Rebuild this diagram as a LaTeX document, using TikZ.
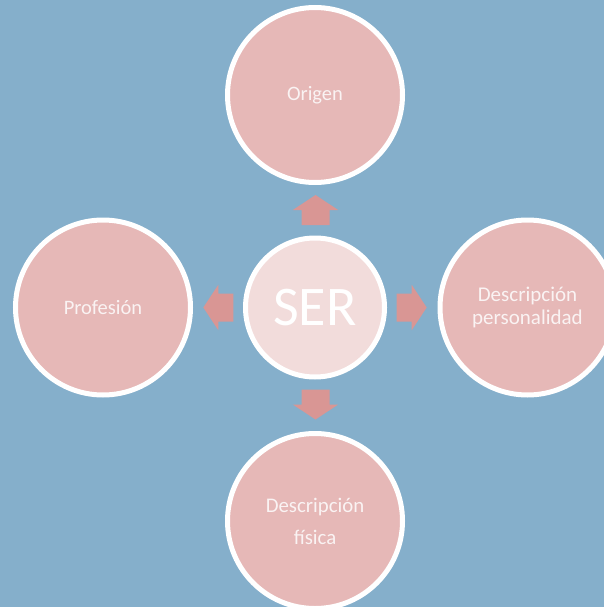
\documentclass[tikz,border=0pt]{standalone}
\usepackage{fontspec}
\setmainfont{Carlito}
\definecolor{bgc}{HTML}{85AFCB}
\definecolor{circc}{HTML}{E6B8B7}
\definecolor{centc}{HTML}{F2DCDB}
\definecolor{arrowc}{HTML}{D99694}
\definecolor{txtc}{HTML}{FAF3F3}
\tikzset{
  outercirc/.style={circle, draw=white, line width=5pt, fill=circc, minimum size=175pt, inner sep=0pt, text=txtc, align=center},
  centercirc/.style={circle, draw=white, line width=5pt, fill=centc, minimum size=139pt, inner sep=0pt, text=white},
  blockarr/.pic={\fill[arrowc] (0,-14) -- (15,-14) -- (15,-22.7) -- (30,0) -- (15,22.7) -- (15,14) -- (0,14) -- cycle;}
}
\begin{document}
\begin{tikzpicture}[x=1pt,y=-1pt]
\useasboundingbox (0,0) rectangle (604,607);
\fill[bgc] (0,0) rectangle (604,607);
\clip (0,0) rectangle (604,607);
\node[outercirc, font=\fontsize{20.5}{24}\selectfont] (origen) at (315,95) {Origen};
\node[outercirc, font=\fontsize{20.5}{24}\selectfont] (prof) at (103,307.5) {Profesi\'on};
\node[outercirc, font=\fontsize{21}{22.7}\selectfont] (pers) at (527.5,307.5) {Descripci\'on\\personalidad};
\node[outercirc, font=\fontsize{20.8}{32}\selectfont] (fis) at (315,521) {Descripci\'on\\f\'isica};
\node[centercirc, font=\fontsize{56}{60}\selectfont] (ser) at (315,307.5) {SER};
\pic[rotate=90] at (315.5,225) {blockarr};
\pic[rotate=-90] at (315.5,389.5) {blockarr};
\pic at (396.7,307.5) {blockarr};
\pic[rotate=180] at (233.3,307.5) {blockarr};
\end{tikzpicture}
\end{document}
